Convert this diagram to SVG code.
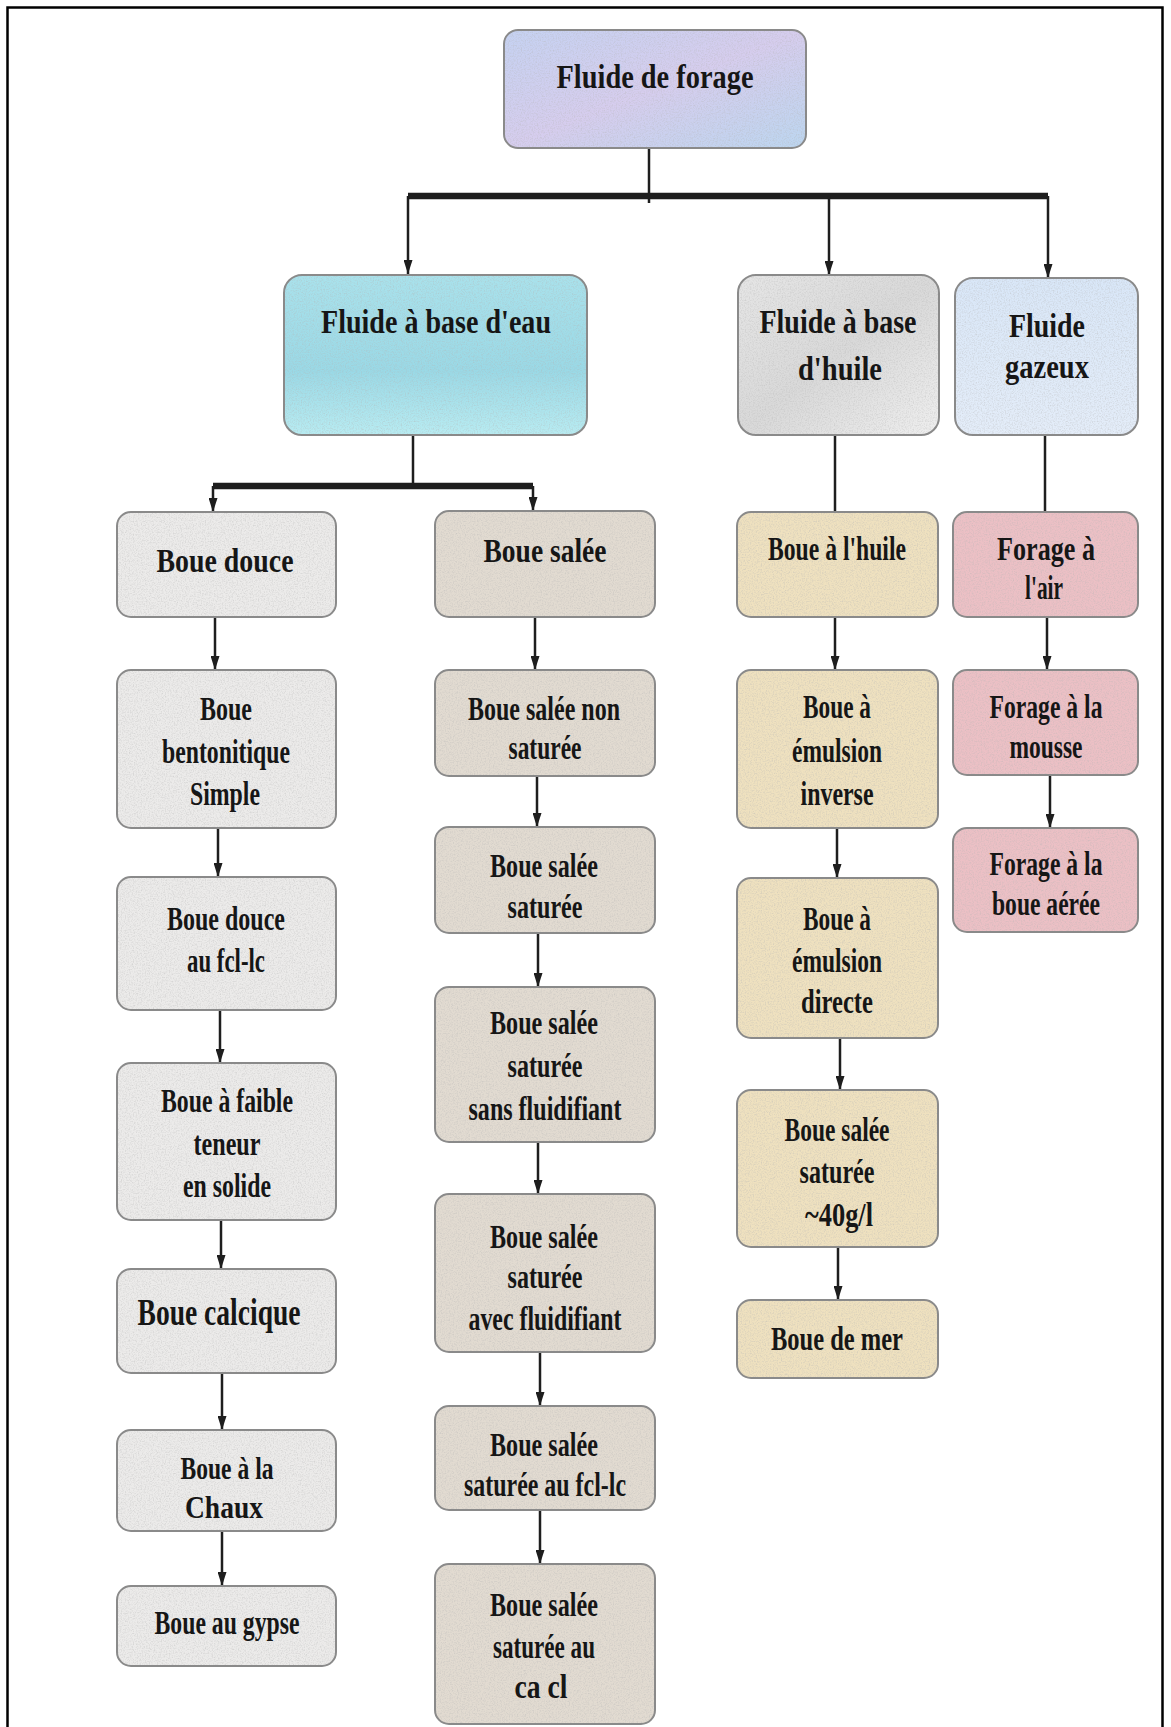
<svg xmlns="http://www.w3.org/2000/svg" width="1171" height="1727" viewBox="0 0 1171 1727">
<style>
.box{stroke:#8a8a8a;stroke-width:2}
.n{fill:#000;stroke:none;filter:url(#grain)}
.t{font-family:"Liberation Serif","Times New Roman",serif;font-weight:bold;font-size:34px;fill:#161616;text-anchor:middle}
.lg{font-size:38px}
.sm{font-size:31px}
.c{fill:none;stroke:#1e1e1e;stroke-width:2.5}
.bar{stroke-width:6.5}
.left{fill:#ecebea}
.mid{fill:#e2dbd1}
.oil{fill:#efe1bf}
.gas{fill:#ecc0c5}
</style>
<defs>
<filter id="grain" x="0" y="0" width="1" height="1">
<feTurbulence type="fractalNoise" baseFrequency="0.75" numOctaves="3" seed="4" result="t"/>
<feColorMatrix in="t" type="matrix" values="0 0 0 0 0.45  0 0 0 0 0.45  0 0 0 0 0.45  0.9 0 0 0 -0.38" result="g"/>
<feComposite in="g" in2="SourceGraphic" operator="in"/>
</filter>
<linearGradient id="gRoot" x1="0" y1="0" x2="1" y2="1">
<stop offset="0" stop-color="#c5d2f2"/><stop offset="0.5" stop-color="#d6cdee"/><stop offset="1" stop-color="#bcd6f0"/>
</linearGradient>
<linearGradient id="gWater" x1="0" y1="0" x2="0" y2="1">
<stop offset="0" stop-color="#a9e2ec"/><stop offset="0.6" stop-color="#9ad9e6"/><stop offset="1" stop-color="#b8ecf2"/>
</linearGradient>
<linearGradient id="gOil" x1="0" y1="0" x2="1" y2="1">
<stop offset="0" stop-color="#e6e6e6"/><stop offset="0.5" stop-color="#d9d9d9"/><stop offset="1" stop-color="#efefef"/>
</linearGradient>
<linearGradient id="gGas" x1="0" y1="0" x2="0" y2="1">
<stop offset="0" stop-color="#d9e7f8"/><stop offset="1" stop-color="#e4edf9"/>
</linearGradient>
<marker id="ah" markerUnits="userSpaceOnUse" markerWidth="14" markerHeight="9" viewBox="0 0 14 9" refX="14" refY="4.5" orient="auto">
<path d="M0 0 L14 4.5 L0 9 z" fill="#1e1e1e"/>
</marker>
</defs>
<rect x="0" y="0" width="1171" height="1727" fill="#fff"/>
<rect x="7.5" y="7.5" width="1155" height="1745" fill="none" stroke="#000" stroke-width="2.5"/>

<g id="connectors">
<path class="c" d="M649 148 V203"/>
<path class="c bar" d="M408 196 H1048"/>
<path class="c" d="M408 196 V274" marker-end="url(#ah)"/>
<path class="c" d="M829 196 V275" marker-end="url(#ah)"/>
<path class="c" d="M1048 196 V278" marker-end="url(#ah)"/>
<path class="c" d="M413 435 V486"/>
<path class="c bar" d="M213 486 H533"/>
<path class="c" d="M213 486 V512" marker-end="url(#ah)"/>
<path class="c" d="M533 486 V511" marker-end="url(#ah)"/>
<path class="c" d="M835 435 V512"/>
<path class="c" d="M1045 435 V512"/>
<path class="c" d="M215 617 V670" marker-end="url(#ah)"/>
<path class="c" d="M218 828 V877" marker-end="url(#ah)"/>
<path class="c" d="M220 1010 V1063" marker-end="url(#ah)"/>
<path class="c" d="M221 1220 V1269" marker-end="url(#ah)"/>
<path class="c" d="M222 1373 V1430" marker-end="url(#ah)"/>
<path class="c" d="M222 1531 V1586" marker-end="url(#ah)"/>
<path class="c" d="M535 617 V670" marker-end="url(#ah)"/>
<path class="c" d="M537 776 V827" marker-end="url(#ah)"/>
<path class="c" d="M538 933 V987" marker-end="url(#ah)"/>
<path class="c" d="M538 1142 V1194" marker-end="url(#ah)"/>
<path class="c" d="M540 1352 V1406" marker-end="url(#ah)"/>
<path class="c" d="M540 1510 V1564" marker-end="url(#ah)"/>
<path class="c" d="M835 617 V670" marker-end="url(#ah)"/>
<path class="c" d="M837 828 V878" marker-end="url(#ah)"/>
<path class="c" d="M840 1038 V1090" marker-end="url(#ah)"/>
<path class="c" d="M838 1247 V1300" marker-end="url(#ah)"/>
<path class="c" d="M1047 617 V670" marker-end="url(#ah)"/>
<path class="c" d="M1050 775 V828" marker-end="url(#ah)"/>
</g>

<g id="root">
<rect class="box" x="504" y="30" width="302" height="118" rx="14" fill="url(#gRoot)"/>
<rect class="n" x="505" y="31" width="300" height="116" rx="14"/>
<text class="t" x="655" y="88" textLength="197" lengthAdjust="spacingAndGlyphs">Fluide de forage</text>
</g>
<g id="fluide-eau">
<rect class="box" x="284" y="275" width="303" height="160" rx="18" fill="url(#gWater)"/>
<rect class="n" x="285" y="276" width="301" height="158" rx="18"/>
<text class="t" x="436" y="333" textLength="230" lengthAdjust="spacingAndGlyphs">Fluide à base d'eau</text>
</g>
<g id="fluide-huile">
<rect class="box" x="738" y="275" width="201" height="160" rx="18" fill="url(#gOil)"/>
<rect class="n" x="739" y="276" width="199" height="158" rx="18"/>
<text class="t" x="838" y="333" textLength="157" lengthAdjust="spacingAndGlyphs">Fluide à base</text>
<text class="t" x="840" y="380" textLength="84" lengthAdjust="spacingAndGlyphs">d'huile</text>
</g>
<g id="fluide-gazeux">
<rect class="box" x="955" y="278" width="183" height="157" rx="18" fill="url(#gGas)"/>
<rect class="n" x="956" y="279" width="181" height="155" rx="18"/>
<text class="t" x="1047" y="337" textLength="76" lengthAdjust="spacingAndGlyphs">Fluide</text>
<text class="t" x="1047" y="378" textLength="84" lengthAdjust="spacingAndGlyphs">gazeux</text>
</g>

<g id="boue-douce">
<rect class="box left" x="117" y="512" width="219" height="105" rx="14"/>
<rect class="n" x="118" y="513" width="217" height="103" rx="14"/>
<text class="t" x="225" y="572" textLength="137" lengthAdjust="spacingAndGlyphs">Boue douce</text>
</g>
<g id="boue-bentonitique">
<rect class="box left" x="117" y="670" width="219" height="158" rx="14"/>
<rect class="n" x="118" y="671" width="217" height="156" rx="14"/>
<text class="t" x="226" y="720" textLength="52" lengthAdjust="spacingAndGlyphs">Boue</text>
<text class="t" x="226" y="763" textLength="128" lengthAdjust="spacingAndGlyphs">bentonitique</text>
<text class="t" x="225" y="805" textLength="70" lengthAdjust="spacingAndGlyphs">Simple</text>
</g>
<g id="boue-douce-fcl">
<rect class="box left" x="117" y="877" width="219" height="133" rx="14"/>
<rect class="n" x="118" y="878" width="217" height="131" rx="14"/>
<text class="t" x="226" y="930" textLength="118" lengthAdjust="spacingAndGlyphs">Boue douce</text>
<text class="t" x="226" y="972" textLength="78" lengthAdjust="spacingAndGlyphs">au fcl-lc</text>
</g>
<g id="boue-faible-teneur">
<rect class="box left" x="117" y="1063" width="219" height="157" rx="14"/>
<rect class="n" x="118" y="1064" width="217" height="155" rx="14"/>
<text class="t" x="227" y="1112" textLength="132" lengthAdjust="spacingAndGlyphs">Boue à faible</text>
<text class="t" x="227" y="1155" textLength="67" lengthAdjust="spacingAndGlyphs">teneur</text>
<text class="t" x="227" y="1197" textLength="88" lengthAdjust="spacingAndGlyphs">en solide</text>
</g>
<g id="boue-calcique">
<rect class="box left" x="117" y="1269" width="219" height="104" rx="14"/>
<rect class="n" x="118" y="1270" width="217" height="102" rx="14"/>
<text class="t lg" x="219" y="1325" textLength="163" lengthAdjust="spacingAndGlyphs">Boue calcique</text>
</g>
<g id="boue-chaux">
<rect class="box left" x="117" y="1430" width="219" height="101" rx="14"/>
<rect class="n" x="118" y="1431" width="217" height="99" rx="14"/>
<text class="t sm" x="227" y="1479" textLength="93" lengthAdjust="spacingAndGlyphs">Boue à la</text>
<text class="t sm" x="224" y="1518" textLength="78" lengthAdjust="spacingAndGlyphs">Chaux</text>
</g>
<g id="boue-gypse">
<rect class="box left" x="117" y="1586" width="219" height="80" rx="14"/>
<rect class="n" x="118" y="1587" width="217" height="78" rx="14"/>
<text class="t" x="227" y="1634" textLength="145" lengthAdjust="spacingAndGlyphs">Boue au gypse</text>
</g>

<g id="boue-salee">
<rect class="box mid" x="435" y="511" width="220" height="106" rx="14"/>
<rect class="n" x="436" y="512" width="218" height="104" rx="14"/>
<text class="t" x="545" y="562" textLength="123" lengthAdjust="spacingAndGlyphs">Boue salée</text>
</g>
<g id="boue-salee-non-saturee">
<rect class="box mid" x="435" y="670" width="220" height="106" rx="14"/>
<rect class="n" x="436" y="671" width="218" height="104" rx="14"/>
<text class="t" x="544" y="720" textLength="152" lengthAdjust="spacingAndGlyphs">Boue salée non</text>
<text class="t" x="545" y="759" textLength="73" lengthAdjust="spacingAndGlyphs">saturée</text>
</g>
<g id="boue-salee-saturee">
<rect class="box mid" x="435" y="827" width="220" height="106" rx="14"/>
<rect class="n" x="436" y="828" width="218" height="104" rx="14"/>
<text class="t" x="544" y="877" textLength="108" lengthAdjust="spacingAndGlyphs">Boue salée</text>
<text class="t" x="545" y="918" textLength="75" lengthAdjust="spacingAndGlyphs">saturée</text>
</g>
<g id="boue-salee-sans-fluidifiant">
<rect class="box mid" x="435" y="987" width="220" height="155" rx="14"/>
<rect class="n" x="436" y="988" width="218" height="153" rx="14"/>
<text class="t" x="544" y="1034" textLength="108" lengthAdjust="spacingAndGlyphs">Boue salée</text>
<text class="t" x="545" y="1077" textLength="75" lengthAdjust="spacingAndGlyphs">saturée</text>
<text class="t" x="545" y="1120" textLength="153" lengthAdjust="spacingAndGlyphs">sans fluidifiant</text>
</g>
<g id="boue-salee-avec-fluidifiant">
<rect class="box mid" x="435" y="1194" width="220" height="158" rx="14"/>
<rect class="n" x="436" y="1195" width="218" height="156" rx="14"/>
<text class="t" x="544" y="1248" textLength="108" lengthAdjust="spacingAndGlyphs">Boue salée</text>
<text class="t" x="545" y="1288" textLength="75" lengthAdjust="spacingAndGlyphs">saturée</text>
<text class="t" x="545" y="1330" textLength="153" lengthAdjust="spacingAndGlyphs">avec fluidifiant</text>
</g>
<g id="boue-salee-fcl">
<rect class="box mid" x="435" y="1406" width="220" height="104" rx="14"/>
<rect class="n" x="436" y="1407" width="218" height="102" rx="14"/>
<text class="t" x="544" y="1456" textLength="108" lengthAdjust="spacingAndGlyphs">Boue salée</text>
<text class="t" x="545" y="1496" textLength="162" lengthAdjust="spacingAndGlyphs">saturée au fcl-lc</text>
</g>
<g id="boue-salee-cacl">
<rect class="box mid" x="435" y="1564" width="220" height="160" rx="14"/>
<rect class="n" x="436" y="1565" width="218" height="158" rx="14"/>
<text class="t" x="544" y="1616" textLength="108" lengthAdjust="spacingAndGlyphs">Boue salée</text>
<text class="t" x="544" y="1658" textLength="102" lengthAdjust="spacingAndGlyphs">saturée au</text>
<text class="t" x="541" y="1698" textLength="53" lengthAdjust="spacingAndGlyphs">ca cl</text>
</g>

<g id="boue-huile">
<rect class="box oil" x="737" y="512" width="201" height="105" rx="14"/>
<rect class="n" x="738" y="513" width="199" height="103" rx="14"/>
<text class="t" x="837" y="560" textLength="138" lengthAdjust="spacingAndGlyphs">Boue à l'huile</text>
</g>
<g id="boue-emulsion-inverse">
<rect class="box oil" x="737" y="670" width="201" height="158" rx="14"/>
<rect class="n" x="738" y="671" width="199" height="156" rx="14"/>
<text class="t" x="837" y="718" textLength="68" lengthAdjust="spacingAndGlyphs">Boue à</text>
<text class="t" x="837" y="762" textLength="90" lengthAdjust="spacingAndGlyphs">émulsion</text>
<text class="t" x="837" y="805" textLength="73" lengthAdjust="spacingAndGlyphs">inverse</text>
</g>
<g id="boue-emulsion-directe">
<rect class="box oil" x="737" y="878" width="201" height="160" rx="14"/>
<rect class="n" x="738" y="879" width="199" height="158" rx="14"/>
<text class="t" x="837" y="930" textLength="68" lengthAdjust="spacingAndGlyphs">Boue à</text>
<text class="t" x="837" y="972" textLength="90" lengthAdjust="spacingAndGlyphs">émulsion</text>
<text class="t" x="837" y="1013" textLength="72" lengthAdjust="spacingAndGlyphs">directe</text>
</g>
<g id="boue-salee-40">
<rect class="box oil" x="737" y="1090" width="201" height="157" rx="14"/>
<rect class="n" x="738" y="1091" width="199" height="155" rx="14"/>
<text class="t" x="837" y="1141" textLength="105" lengthAdjust="spacingAndGlyphs">Boue salée</text>
<text class="t" x="837" y="1183" textLength="75" lengthAdjust="spacingAndGlyphs">saturée</text>
<text class="t" x="839" y="1226" textLength="68" lengthAdjust="spacingAndGlyphs">~40g/l</text>
</g>
<g id="boue-mer">
<rect class="box oil" x="737" y="1300" width="201" height="78" rx="14"/>
<rect class="n" x="738" y="1301" width="199" height="76" rx="14"/>
<text class="t" x="837" y="1350" textLength="132" lengthAdjust="spacingAndGlyphs">Boue de mer</text>
</g>

<g id="forage-air">
<rect class="box gas" x="953" y="512" width="185" height="105" rx="14"/>
<rect class="n" x="954" y="513" width="183" height="103" rx="14"/>
<text class="t" x="1046" y="560" textLength="98" lengthAdjust="spacingAndGlyphs">Forage à</text>
<text class="t" x="1044" y="599" textLength="38" lengthAdjust="spacingAndGlyphs">l'air</text>
</g>
<g id="forage-mousse">
<rect class="box gas" x="953" y="670" width="185" height="105" rx="14"/>
<rect class="n" x="954" y="671" width="183" height="103" rx="14"/>
<text class="t" x="1046" y="718" textLength="113" lengthAdjust="spacingAndGlyphs">Forage à la</text>
<text class="t" x="1046" y="758" textLength="73" lengthAdjust="spacingAndGlyphs">mousse</text>
</g>
<g id="forage-boue-aeree">
<rect class="box gas" x="953" y="828" width="185" height="104" rx="14"/>
<rect class="n" x="954" y="829" width="183" height="102" rx="14"/>
<text class="t" x="1046" y="875" textLength="113" lengthAdjust="spacingAndGlyphs">Forage à la</text>
<text class="t" x="1046" y="915" textLength="108" lengthAdjust="spacingAndGlyphs">boue aérée</text>
</g>
</svg>
